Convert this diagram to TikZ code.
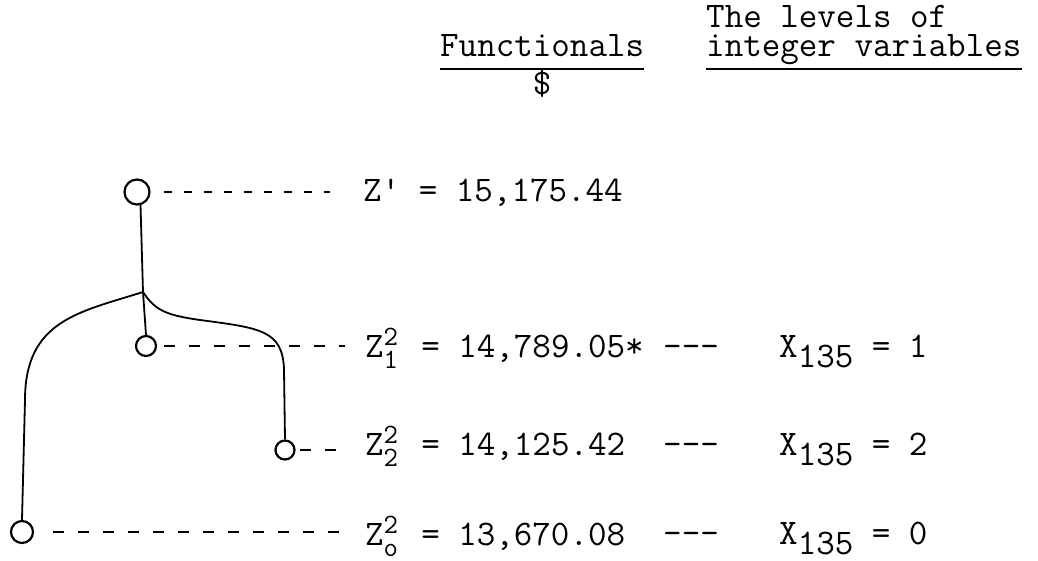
\documentclass[tikz,border=0pt]{standalone}
\usepackage{fontspec}
\newcommand\smalltype{\fontsize{28}{28}\selectfont}
\newcommand\zsupsub[2]{Z\rlap{\raisebox{12pt}{\smalltype #1}}\makebox[19pt][l]{\raisebox{-11pt}{\smalltype #2}}}
\begin{document}
\begin{tikzpicture}[x=1pt,y=-1pt,
  typed/.style={font=\ttfamily\fontsize{36}{40}\selectfont,inner sep=0pt,anchor=base west},
  knot/.style={circle,draw,line width=2.2pt,inner sep=0pt},
  guide/.style={line width=1.6pt,dash pattern=on 11pt off 14pt},
  branch/.style={line width=1.8pt}]
  \useasboundingbox (0,0) rectangle (1038,561);
  % headings
  \node[typed] (func) at (440,57) {Functionals};
  \node[typed,anchor=base] (usd) at ([yshift=-38pt]func.base) {\$};
  \node[typed] (lev) at (706,28) {The levels of};
  \node[typed] (intv) at (706,57) {integer variables};
  \draw[line width=2.4pt] ([yshift=-12pt]func.base west) -- ([yshift=-12pt]func.base east);
  \draw[line width=2.4pt] ([yshift=-12pt]intv.base west) -- ([yshift=-12pt]intv.base east);
  % functional values
  \node[typed] (zp) at (363,202) {Z' = 15,175.44};
  \node[typed] (z1) at (365,357) {\zsupsub{2}{1} = 14,789.05*};
  \node[typed] (z2) at (365,455) {\zsupsub{2}{2} = 14,125.42};
  \node[typed] (z0) at (365,545) {\zsupsub{2}{o} = 13,670.08};
  % integer levels
  \foreach \r/\y in {1/357,2/455,0/544} {
    \node[typed] (d\r) at (663,\y) {-{}-{}-};
    \node[typed] (x\r) at (779,\y) {X\raisebox{-10pt}{135} = \r};
  }
  % branching tree
  \node[knot,minimum size=25pt] (root) at (137,192) {};
  \node[knot,minimum size=20pt] (n1) at (146,346) {};
  \node[knot,minimum size=19pt] (n2) at (285,450) {};
  \node[knot,minimum size=22pt] (n0) at (22,532) {};
  \coordinate (fork) at (143,292);
  \draw[branch] (root.-75) -- (fork) -- (n1.north);
  \draw[branch] (fork) .. controls (80,312) and (25,320) .. (25,400) -- (n0.north);
  \draw[branch] (fork) .. controls (155,310) and (165,315) .. (200,320) .. controls (260,328) and (283,330) .. (284,370) -- (n2.north);
  % guides to the values
  \draw[guide,dash pattern=on 8pt off 12pt,shorten <=13pt,shorten >=33pt] (root.east) -- (root.east -| zp.west);
  \draw[guide,shorten <=7pt,shorten >=20pt] (n1.east) -- (n1.east -| z1.west);
  \draw[guide,shorten <=4pt,shorten >=22pt] (n2.east) -- (n2.east -| z2.west);
  \draw[guide,shorten <=19pt,shorten >=20pt] (n0.east) -- (n0.east -| z0.west);
\end{tikzpicture}
\end{document}
